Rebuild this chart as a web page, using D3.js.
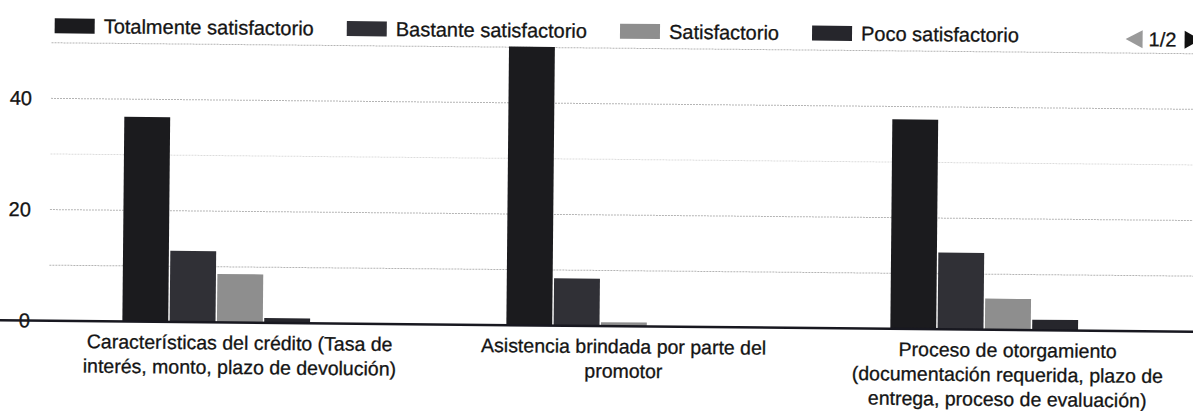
<!DOCTYPE html>
<html>
<head>
<meta charset="utf-8">
<script src="https://cdn.jsdelivr.net/npm/d3@7"></script>
<style>
  html, body { margin: 0; padding: 0; background: #fff; }
  svg { display: block; }
  text { font-family: "Liberation Sans", Arial, sans-serif; fill: #141414; stroke: #141414; stroke-width: 0.3px; }
</style>
</head>
<body>
<svg id="chart" width="1193" height="411"></svg>
<script>
// ---- data ----
const categories = [
  "Características del crédito (Tasa de\ninterés, monto, plazo de devolución)",
  "Asistencia brindada por parte del\npromotor",
  "Proceso de otorgamiento\n(documentación requerida, plazo de\nentrega, proceso de evaluación)"
];
const seriesNames = ["Totalmente satisfactorio", "Bastante satisfactorio", "Satisfactorio", "Poco satisfactorio", "Nada satisfactorio"];
const legendVisible = ["Totalmente satisfactorio", "Bastante satisfactorio", "Satisfactorio", "Poco satisfactorio"];
const totalmente    = [36.8, 50.1, 37.7];
const bastante      = [12.8, 8.5, 13.8];
const satisfactorio = [8.7, 0.7, 5.6];
const poco          = [0.85, 0, 1.9];
const nada          = [0, 0, 0];
const yTicks = [0, 20, 40];
const yGrid = [10, 20, 30, 40, 50];
const pagerText = "1/2";

const seriesValues = [totalmente, bastante, satisfactorio, poco, nada];
const colors = ["#1b1b1e", "#303036", "#8e8e8e", "#26262c", "#555555"];

// ---- layout ----
const svg = d3.select("#chart");
svg.append("rect").attr("width", 1193).attr("height", 411).attr("fill", "#fff");
const root = svg.append("g").attr("transform", "rotate(0.55, 596, 205)");

const x0 = d3.scaleBand().domain(d3.range(categories.length))
  .range([49, 1201]).paddingInner(0.388).paddingOuter(0.194);
const x1 = d3.scaleBand().domain(seriesNames).range([0, x0.bandwidth()]).paddingInner(0.03);
const y = d3.scaleLinear().domain([0, 50]).range([326, 48]);

// grid
root.append("g").selectAll("line").data(yGrid).join("line")
  .attr("x1", 50).attr("x2", 1200)
  .attr("y1", d => y(d)).attr("y2", d => y(d))
  .attr("stroke", d => d === 30 ? "#dcdcdc" : "#b4b4b4")
  .attr("stroke-width", 1)
  .attr("stroke-dasharray", "2,1");

// y labels
const yAxis = d3.axisLeft(y).tickValues(yTicks).tickSize(0).tickPadding(0);
const yg = root.append("g").attr("transform", "translate(31,0)").call(yAxis);
yg.select(".domain").remove();
yg.selectAll("text").attr("font-size", 20).attr("fill", "#141414")
  .attr("font-family", "Liberation Sans, Arial, sans-serif");

// bars
const groups = root.append("g").selectAll("g").data(categories.map((c, i) => i)).join("g")
  .attr("transform", i => `translate(${x0(i)},0)`);
groups.selectAll("rect")
  .data(i => seriesNames.map((s, k) => ({ s, k, v: seriesValues[k][i] })))
  .join("rect")
  .attr("x", d => x1(d.s))
  .attr("width", x1.bandwidth())
  .attr("y", d => y(d.v))
  .attr("height", d => y(0) - y(d.v))
  .attr("fill", d => colors[d.k]);

// baseline (x axis)
const xAxis = d3.axisBottom(x0).tickSize(0).tickFormat("");
const xg = root.append("g").attr("transform", `translate(0,${y(0)})`).call(xAxis);
xg.select(".domain").attr("stroke", "#181820").attr("stroke-width", 2.5)
  .attr("d", "M1,0H1200");

// category labels
categories.forEach((c, i) => {
  const lines = c.split("\n");
  const t = root.append("text")
    .attr("x", x0(i) + x0.bandwidth() / 2)
    .attr("y", 353)
    .attr("text-anchor", "middle")
    .attr("font-size", 19.5);
  lines.forEach((ln, j) => {
    t.append("tspan").attr("x", x0(i) + x0.bandwidth() / 2).attr("dy", j === 0 ? 0 : 24.5).text(ln);
  });
});

// legend
const legend = root.append("g");
let lx = 53;
const ly = 31;
legendVisible.forEach((name) => {
  const k = seriesNames.indexOf(name);
  legend.append("rect").attr("x", lx).attr("y", ly - 7.5).attr("width", 40).attr("height", 15)
    .attr("fill", colors[k]);
  const t = legend.append("text").attr("x", lx + 49).attr("y", ly + 7).attr("font-size", 20).text(name);
  const w = t.node().getComputedTextLength();
  lx = lx + 49 + w + 33;
});

// pager
const px = 1133;
const py = 34;
legend.append("path").attr("d", `M${px - 9},${py} L${px + 8},${py - 9} L${px + 8},${py + 9} Z`).attr("fill", "#9a9a9a");
legend.append("text").attr("x", px + 14).attr("y", py + 7).attr("font-size", 20).text(pagerText);
legend.append("path").attr("d", `M${px + 50},${py - 9} L${px + 66},${py} L${px + 50},${py + 9} Z`).attr("fill", "#111");
</script>
</body>
</html>
